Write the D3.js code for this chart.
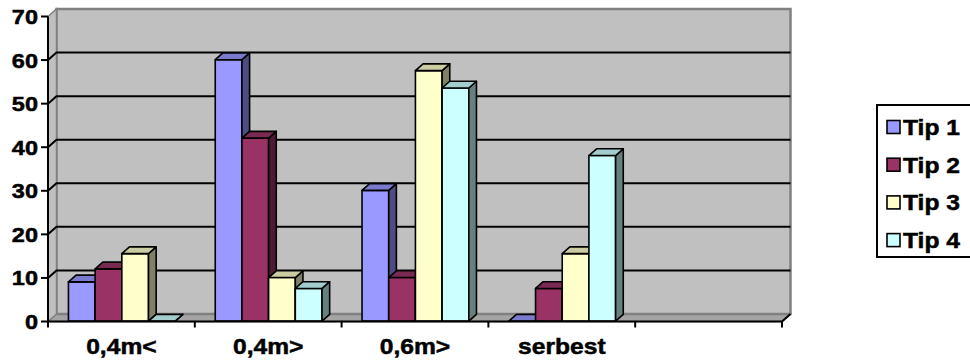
<!DOCTYPE html>
<html>
<head>
<meta charset="utf-8">
<script src="https://cdn.jsdelivr.net/npm/d3@7"></script>
<style>
  html, body { margin: 0; padding: 0; background: #ffffff; }
  svg { display: block; }
  text { font-family: "Liberation Sans", Arial, sans-serif; font-weight: bold; fill: #000; stroke: #000; stroke-width: 0.5px; }
</style>
</head>
<body>
<svg id="chart" width="970" height="362"></svg>
<script>
// Categories along the x axis (the last slot is left empty)
const categories = ["0,4m<", "0,4m>", "0,6m>", "serbest", ""];
const seriesNames = ["Tip 1", "Tip 2", "Tip 3", "Tip 4"];

// Values per series, one per labelled category
const tip1 = [9, 60, 30, 0];
const tip2 = [12, 42, 10, 7.5];
const tip3 = [15.5, 10, 57.5, 15.5];
const tip4 = [0, 7.5, 53.5, 38];

const yTicks = [0, 10, 20, 30, 40, 50, 60, 70];

const seriesColors = ["#9999ff", "#993366", "#ffffcc", "#ccffff"];

const seriesValues = [tip1, tip2, tip3, tip4];

const svg = d3.select("#chart");

// Front plane of the plot box and the oblique depth offset
const plot = { left: 48, right: 782, bottom: 321.5, top: 16.5 };
const DX = 8.5, DY = 7.5;
const textStretch = 1.12;

const y = d3.scaleLinear().domain([0, 70]).range([plot.bottom, plot.top]);
const x = d3.scaleBand().domain(categories).range([plot.left, plot.right]);
const xs = d3.scaleBand().domain(seriesNames).range([0, x.bandwidth()]).paddingOuter(0.75);

// Project a point (x on the front plane, value, depth 0..1) into screen space
const P = (px, v, d) => [px + d * DX, y(v) - d * DY];
const poly = pts => "M" + pts.map(p => p.join(",")).join("L") + "Z";
const shade = (c, k) => { const r = d3.rgb(c); return d3.rgb(r.r * k, r.g * k, r.b * k).formatHex(); };

const yMax = yTicks[yTicks.length - 1];

// Floor
svg.append("path")
  .attr("d", poly([P(plot.left, 0, 0), P(plot.right, 0, 0), P(plot.right, 0, 1), P(plot.left, 0, 1)]))
  .attr("fill", "#a4a4a4").attr("stroke", "#808080").attr("stroke-width", 1.5);

// Back wall
svg.append("path")
  .attr("d", poly([P(plot.left, 0, 1), P(plot.right, 0, 1), P(plot.right, yMax, 1), P(plot.left, yMax, 1)]))
  .attr("fill", "#c0c0c0").attr("stroke", "#808080").attr("stroke-width", 2.5);

// Side wall
svg.append("path")
  .attr("d", poly([P(plot.left, 0, 0), P(plot.left, 0, 1), P(plot.left, yMax, 1), P(plot.left, yMax, 0)]))
  .attr("fill", "#c0c0c0").attr("stroke", "#808080").attr("stroke-width", 1.5);

// Gridlines across side wall and back wall
svg.append("g").selectAll("path")
  .data(yTicks.filter(t => t > 0 && t < yMax))
  .join("path")
  .attr("d", t => "M" + [P(plot.left, t, 0), P(plot.left, t, 1), P(plot.right, t, 1)].map(p => p.join(",")).join("L"))
  .attr("fill", "none").attr("stroke", "#000").attr("stroke-width", 2);

// Bars: front, side and top faces
const barsG = svg.append("g");
const d0 = 0.05, d1 = 0.95;
categories.forEach((cat, i) => {
  seriesNames.forEach((s, j) => {
    const v = seriesValues[j][i];
    if (v === undefined) return;
    const x0 = x(cat) + xs(s), x1 = x0 + xs.bandwidth();
    const base = seriesColors[j];
    const g = barsG.append("g")
      .attr("stroke", "#000").attr("stroke-width", 1.6).attr("stroke-linejoin", "round");
    g.append("path").attr("d", poly([P(x0, 0, d0), P(x1, 0, d0), P(x1, v, d0), P(x0, v, d0)])).attr("fill", base);
    g.append("path").attr("d", poly([P(x1, 0, d0), P(x1, 0, d1), P(x1, v, d1), P(x1, v, d0)])).attr("fill", shade(base, 0.5));
    g.append("path").attr("d", poly([P(x0, v, d0), P(x1, v, d0), P(x1, v, d1), P(x0, v, d1)])).attr("fill", shade(base, 0.8));
  });
});

// Value axis
svg.append("line")
  .attr("x1", plot.left).attr("x2", plot.left).attr("y1", y(0)).attr("y2", y(yMax))
  .attr("stroke", "#000").attr("stroke-width", 2);
const yAxisG = svg.append("g");
yAxisG.selectAll("line").data(yTicks).join("line")
  .attr("x1", plot.left - 7).attr("x2", plot.left).attr("y1", d => y(d)).attr("y2", d => y(d))
  .attr("stroke", "#000").attr("stroke-width", 2);
yAxisG.selectAll("text").data(yTicks).join("text")
  .attr("transform", d => `translate(${plot.left - 10},${y(d) + 7.5}) scale(${textStretch},1)`)
  .attr("text-anchor", "end").attr("font-size", 21)
  .text(d => d);

// Category axis
svg.append("path")
  .attr("d", "M" + [P(plot.left, 0, 0), P(plot.right, 0, 0), P(plot.right, 0, 1)].map(p => p.join(",")).join("L"))
  .attr("fill", "none").attr("stroke", "#000").attr("stroke-width", 2);
const boundaries = categories.map(c => x(c)).concat([plot.right]);
svg.append("g").selectAll("line").data(boundaries).join("line")
  .attr("x1", d => d).attr("x2", d => d).attr("y1", y(0)).attr("y2", y(0) + 6)
  .attr("stroke", "#000").attr("stroke-width", 2);
svg.append("g").selectAll("text").data(categories).join("text")
  .attr("transform", d => `translate(${x(d) + x.bandwidth() / 2},354) scale(${textStretch},1)`)
  .attr("text-anchor", "middle").attr("font-size", 22)
  .text(d => d);

// Legend
const legend = svg.append("g");
legend.append("rect")
  .attr("x", 877).attr("y", 105).attr("width", 100).attr("height", 152)
  .attr("fill", "#fff").attr("stroke", "#000").attr("stroke-width", 2);
const items = legend.selectAll("g.item").data(seriesNames).join("g")
  .attr("class", "item")
  .attr("transform", (d, i) => `translate(0,${127 + i * 37.7})`);
items.append("rect")
  .attr("x", 887).attr("y", -6.5).attr("width", 13).attr("height", 13)
  .attr("fill", (d, i) => seriesColors[i]).attr("stroke", "#000").attr("stroke-width", 1.6);
items.append("text")
  .attr("transform", `translate(903,8) scale(${textStretch},1)`)
  .attr("font-size", 22)
  .text(d => d);
</script>
</body>
</html>
